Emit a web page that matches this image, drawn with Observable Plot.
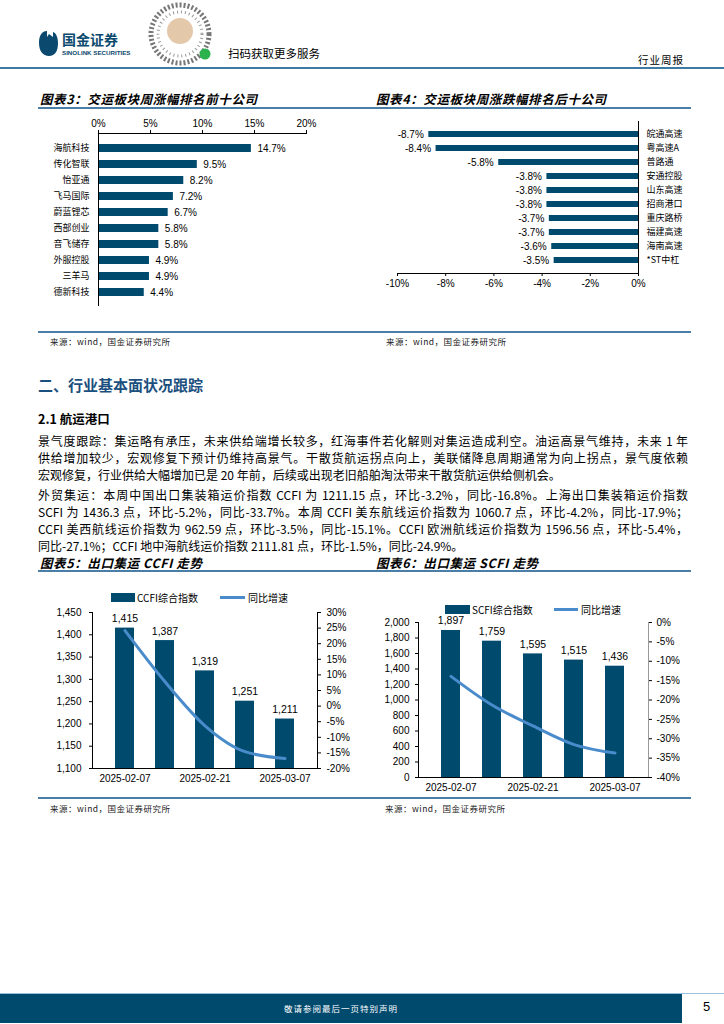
<!DOCTYPE html>
<html><head><meta charset="utf-8">
<script src="https://cdn.jsdelivr.net/npm/d3@7"></script>
<script src="https://cdn.jsdelivr.net/npm/@observablehq/plot@0.6"></script>
<style>
body{margin:0;background:#fff;}
#page{position:relative;width:724px;height:1024px;overflow:hidden;background:#fff;font-family:"Noto Sans CJK SC","Liberation Sans",sans-serif;color:#000;}
.abs{position:absolute;}
.title{position:absolute;font-weight:bold;font-style:italic;font-size:12.5px;letter-spacing:0.6px;white-space:nowrap;}
.src{position:absolute;font-size:8.5px;color:#222;white-space:nowrap;letter-spacing:0.5px;}
.hline{position:absolute;height:1.5px;background:#4a7ea6;}
.para{position:absolute;left:38px;width:650px;font-size:12px;line-height:17px;white-space:nowrap;text-align:justify;text-align-last:justify;}
.last{text-align-last:left;}
.leg{position:absolute;font-size:10px;white-space:nowrap;z-index:2;}
.sw{z-index:2;}
</style></head>
<body><div id="page">
<!-- header -->
<svg class="abs" style="left:38px;top:28px" width="110" height="32">
  <path d="M9 3 C3 3 1 9 1 15 C1 23 5 28 11 28 C17 28 20 23 20 15 C20 9 18 5 15 4 L15 9 L11 6 L9 9 Z" fill="#0b4a6e"/>
  <text x="24" y="17" font-size="14" font-weight="bold" fill="#0b4a6e" font-family="Noto Sans CJK SC">国金证券</text>
  <text x="24" y="27" font-size="6.2" font-weight="bold" fill="#0b4a6e" font-family="Liberation Sans">SINOLINK SECURITIES</text>
</svg>
<svg class="abs" style="left:148px;top:2px" width="66" height="64">
  <circle cx="32" cy="32" r="29" fill="none" stroke="#777" stroke-width="5" stroke-dasharray="2 2"/>
  <circle cx="32" cy="32" r="22" fill="none" stroke="#999" stroke-width="3" stroke-dasharray="1 3"/>
  <circle cx="32" cy="29" r="13" fill="#e3c9aa"/>
  <circle cx="57" cy="52" r="5.5" fill="#2bb24c"/>
</svg>
<div class="abs" style="left:228px;top:45px;font-size:11.5px;">扫码获取更多服务</div>
<div class="abs" style="left:638px;top:52px;font-size:10.5px;letter-spacing:1px;">行业周报</div>
<div class="abs" style="left:0;top:67px;width:724px;height:2px;background:#3f7aa5;"></div>

<!-- chart titles row 1 -->
<div class="title" style="left:40px;top:89px;">图表3：交运板块周涨幅排名前十公司</div>
<div class="title" style="left:376px;top:89px;">图表4：交运板块周涨跌幅排名后十公司</div>
<div class="hline" style="left:38px;top:107px;width:653px;"></div>
<div id="c3" class="abs" style="left:30px;top:112px;"></div>
<div id="c4" class="abs" style="left:365px;top:112px;"></div>
<div class="hline" style="left:38px;top:331px;width:653px;"></div>
<div class="src" style="left:50px;top:335px;">来源：wind，国金证券研究所</div>
<div class="src" style="left:386px;top:335px;">来源：wind，国金证券研究所</div>

<!-- section -->
<div class="abs" style="left:38px;top:374px;font-size:15px;font-weight:bold;color:#1b4f7e;">二、行业基本面状况跟踪</div>
<div class="abs" style="left:38px;top:409px;font-size:12.5px;font-weight:bold;">2.1 航运港口</div>
<div class="para" style="top:432px;">景气度跟踪：集运略有承压，未来供给端增长较多，红海事件若化解则对集运造成利空。油运高景气维持，未来 1 年</div>
<div class="para" style="top:449px;">供给增加较少，宏观修复下预计仍维持高景气。干散货航运拐点向上，美联储降息周期通常为向上拐点，景气度依赖</div>
<div class="para last" style="top:466px;">宏观修复，行业供给大幅增加已是 20 年前，后续或出现老旧船舶淘汰带来干散货航运供给侧机会。</div>
<div class="para" style="top:486px;">外贸集运：本周中国出口集装箱运价指数 CCFI 为 1211.15 点，环比-3.2%，同比-16.8%。上海出口集装箱运价指数</div>
<div class="para" style="top:503px;">SCFI 为 1436.3 点，环比-5.2%，同比-33.7%。本周 CCFI 美东航线运价指数为 1060.7 点，环比-4.2%，同比-17.9%；</div>
<div class="para" style="top:520px;">CCFI 美西航线运价指数为 962.59 点，环比-3.5%，同比-15.1%。CCFI 欧洲航线运价指数为 1596.56 点，环比-5.4%，</div>
<div class="para last" style="top:537px;">同比-27.1%；CCFI 地中海航线运价指数 2111.81 点，环比-1.5%，同比-24.9%。</div>

<!-- chart titles row 2 -->
<div class="title" style="left:40px;top:553px;">图表5：出口集运 CCFI 走势</div>
<div class="title" style="left:376px;top:553px;">图表6：出口集运 SCFI 走势</div>
<div class="hline" style="left:38px;top:570px;width:653px;"></div>

<div class="abs sw" style="left:111px;top:593px;width:24px;height:9px;background:#004a6e;"></div>
<div class="leg" style="left:137px;top:590px;">CCFI综合指数</div>
<div class="abs sw" style="left:220px;top:596px;width:25px;height:3px;background:#4a8ccb;"></div>
<div class="leg" style="left:248px;top:590px;">同比增速</div>

<div class="abs sw" style="left:445px;top:605px;width:25px;height:9px;background:#004a6e;"></div>
<div class="leg" style="left:472px;top:602px;">SCFI综合指数</div>
<div class="abs sw" style="left:554px;top:608px;width:24px;height:3px;background:#4a8ccb;"></div>
<div class="leg" style="left:581px;top:602px;">同比增速</div>

<div id="c5" class="abs" style="left:30px;top:605px;"></div>
<div id="c6" class="abs" style="left:365px;top:612px;"></div>
<div class="hline" style="left:38px;top:797px;width:653px;"></div>
<div class="src" style="left:50px;top:802px;">来源：wind，国金证券研究所</div>
<div class="src" style="left:385px;top:802px;">来源：wind，国金证券研究所</div>

<!-- footer -->
<div class="abs" style="left:0;top:993px;width:682px;height:29px;background:#004a6e;border-top:1.5px solid #9cc0dc;"></div>
<div class="abs" style="left:0;top:1002px;width:682px;text-align:center;font-size:8.5px;color:#fff;letter-spacing:1px;">敬请参阅最后一页特别声明</div>
<div class="abs" style="left:682px;top:993px;width:42px;height:29px;border-top:1.5px solid #9cc0dc;"></div>
<div class="abs" style="left:703px;top:999px;font-size:13px;font-family:'Liberation Sans';">5</div>
</div>

<script>
// ---------- data ----------
const topNames = ["海航科技","传化智联","怡亚通","飞马国际","蔚蓝锂芯","西部创业","音飞储存","外服控股","三羊马","德新科技"];
const topValues = [14.7, 9.5, 8.2, 7.2, 6.7, 5.8, 5.8, 4.9, 4.9, 4.4];
const topTicks = [0, 5, 10, 15, 20];

const bottomNames = ["皖通高速","粤高速A","普路通","安通控股","山东高速","招商港口","重庆路桥","福建高速","海南高速","*ST中杠"];
const bottomValues = [-8.7, -8.4, -5.8, -3.8, -3.8, -3.8, -3.7, -3.7, -3.6, -3.5];
const bottomTicks = [-10, -8, -6, -4, -2, 0];

const weekDates = ["2025-02-07","2025-02-14","2025-02-21","2025-02-28","2025-03-07"];
const dateLabels = ["2025-02-07","2025-02-21","2025-03-07"];
const ccfiIndex = [1415, 1387, 1319, 1251, 1211];
const ccfiYoY = [24.2, 7.8, -6.3, -14.6, -16.8];
const ccfiLeftTicks = [1100, 1150, 1200, 1250, 1300, 1350, 1400, 1450];
const ccfiRightTicks = [-20, -15, -10, -5, 0, 5, 10, 15, 20, 25, 30];

const scfiIndex = [1897, 1759, 1595, 1515, 1436];
const scfiYoY = [-13.9, -21.3, -26.7, -31.5, -33.7];
const scfiLeftTicks = [0, 200, 400, 600, 800, 1000, 1200, 1400, 1600, 1800, 2000];
const scfiRightTicks = [-40, -35, -30, -25, -20, -15, -10, -5, 0];

// ---------- style ----------
const BAR = "#004a6e", LINE = "#4a8ccb";
const numFont = "Liberation Sans, Arial, sans-serif";
const cjkFont = "Noto Sans CJK SC, sans-serif";
const baseStyle = {fontFamily: numFont, fontSize: "10px", color: "#000", background: "transparent", overflow: "visible"};
const pct = d => d + "%";

// ---------- chart 3 ----------
const topData = topNames.map((n, i) => ({name: n, v: topValues[i]}));
document.getElementById("c3").append(Plot.plot({
  width: 300, height: 198, marginLeft: 68, marginRight: 24, marginTop: 21, marginBottom: 4,
  style: baseStyle,
  x: {domain: [0, 20], axis: null, label: null},
  y: {domain: topNames, padding: 0.5, axis: null, label: null},
  marks: [
    Plot.axisX({anchor: "top", ticks: topTicks, tickFormat: pct, tickSize: 4, tickPadding: 3, fontSize: 10, label: null}),
    Plot.axisY({anchor: "left", tickSize: 0, tickPadding: 9, fontSize: 9, fontFamily: cjkFont, label: null}),
    Plot.barX(topData, {x: "v", y: "name", fill: BAR}),
    Plot.text(topData, {x: "v", y: "name", text: d => d.v.toFixed(1) + "%", textAnchor: "start", dx: 6, fontSize: 10}),
    Plot.ruleX([0], {stroke: "#000"}),
    Plot.frame({anchor: "top", stroke: "#000"})
  ]
}));

// ---------- chart 4 ----------
const botData = bottomNames.map((n, i) => ({name: n, v: bottomValues[i]}));
document.getElementById("c4").append(Plot.plot({
  width: 325, height: 182, marginLeft: 32, marginRight: 52, marginTop: 9, marginBottom: 21,
  style: baseStyle,
  x: {domain: [-10, 0], axis: null, label: null},
  y: {domain: bottomNames, padding: 0.55, axis: null, label: null},
  marks: [
    Plot.axisX({anchor: "bottom", ticks: bottomTicks, tickFormat: pct, tickSize: 3, tickPadding: 3, fontSize: 10, label: null}),
    Plot.axisY({anchor: "right", tickSize: 0, tickPadding: 8, fontSize: 9, fontFamily: cjkFont, label: null}),
    Plot.barX(botData, {x: "v", y: "name", fill: BAR}),
    Plot.text(botData, {x: "v", y: "name", text: d => d.v.toFixed(1) + "%", textAnchor: "end", dx: -5, fontSize: 10}),
    Plot.ruleX([0], {stroke: "#000"}),
    Plot.frame({anchor: "bottom", stroke: "#000"})
  ]
}));

// ---------- dual-axis combo chart ----------
function combo(el, opts) {
  const {index, yoy, yMin, yMax, pMin, pMax, leftTicks, rightTicks, width, height, marginLeft, marginRight, marginTop, marginBottom, rightStroke, lp, rp} = opts;
  const toLeft = p => yMin + (p - pMin) / (pMax - pMin) * (yMax - yMin);
  const toPct = v => Math.round((v - yMin) / (yMax - yMin) * (pMax - pMin) + pMin);
  const data = weekDates.map((d, i) => ({date: d, v: index[i], yoy: yoy[i]}));
  document.getElementById(el).append(Plot.plot({
    width, height, marginLeft, marginRight, marginTop, marginBottom,
    style: baseStyle,
    x: {domain: weekDates, padding: 0.53, axis: null, label: null},
    y: {domain: [yMin, yMax], axis: null, label: null},
    marks: [
      Plot.barY(data, {x: "date", y1: () => yMin, y2: "v", fill: BAR}),
      Plot.text(data, {x: "date", y: "v", text: d => d3.format(",")(d.v), lineAnchor: "bottom", dy: -6, fontSize: 10.5}),
      Plot.line(data, {x: "date", y: d => toLeft(d.yoy), stroke: LINE, strokeWidth: 3, curve: "monotone-x"}),
      Plot.axisY({anchor: "left", ticks: leftTicks, tickFormat: d3.format(","), tickSize: 3, tickPadding: lp, fontSize: 10, label: null}),
      Plot.axisY({anchor: "right", ticks: rightTicks.map(toLeft), tickFormat: v => toPct(v) + "%", tickSize: 3, tickPadding: rp, fontSize: 10, label: null}),
      Plot.axisX({anchor: "bottom", ticks: dateLabels, tickSize: 0, tickPadding: 6, fontSize: 10, label: null}),
      Plot.frame({anchor: "left", stroke: "#000"}),
      Plot.frame({anchor: "right", stroke: rightStroke}),
      Plot.frame({anchor: "bottom", stroke: "#000"})
    ]
  }));
}
combo("c5", {index: ccfiIndex, yoy: ccfiYoY, yMin: 1100, yMax: 1450, pMin: -20, pMax: 30,
  leftTicks: ccfiLeftTicks, rightTicks: ccfiRightTicks, width: 330, height: 185,
  marginLeft: 62, marginRight: 43, marginTop: 7, marginBottom: 22, rightStroke: "#000", lp: 8, rp: 6});
combo("c6", {index: scfiIndex, yoy: scfiYoY, yMin: 0, yMax: 2000, pMin: -40, pMax: 0,
  leftTicks: scfiLeftTicks, rightTicks: scfiRightTicks, width: 330, height: 187,
  marginLeft: 53, marginRight: 47, marginTop: 10, marginBottom: 22, rightStroke: "#999", lp: 6, rp: 5});
</script>
</body></html>
